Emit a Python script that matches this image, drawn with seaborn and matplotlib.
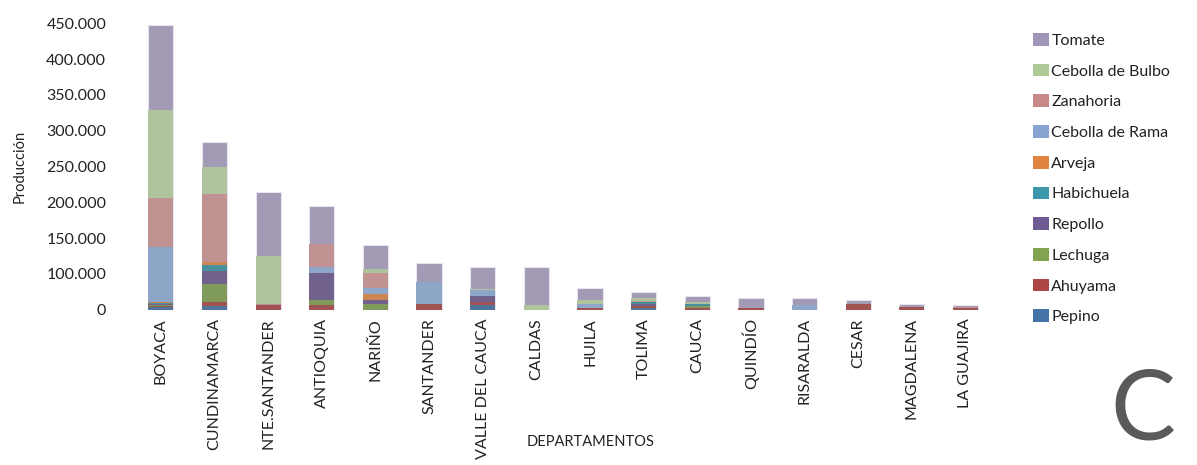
import numpy as np
import pandas as pd
import seaborn as sns
from matplotlib import pyplot as plt
from matplotlib.patches import Patch

# Data
departamentos = ['BOYACA', 'CUNDINAMARCA', 'NTE.SANTANDER', 'ANTIOQUIA', 'NARIÑO',
                 'SANTANDER', 'VALLE DEL CAUCA', 'CALDAS', 'HUILA', 'TOLIMA', 'CAUCA',
                 'QUINDÍO', 'RISARALDA', 'CESAR', 'MAGDALENA', 'LA GUAJIRA']

pepino     = [5000, 6300, 0, 0, 0, 0, 6600, 0, 0, 3100, 0, 0, 0, 0, 0, 0]
ahuyama    = [1000, 5800, 7500, 7000, 0, 9700, 5600, 0, 3400, 3400, 3100, 3400, 0, 9700, 4400, 3000]
lechuga    = [2000, 27600, 0, 8900, 9700, 0, 0, 0, 0, 0, 2400, 0, 0, 0, 0, 0]
repollo    = [1000, 21000, 0, 42300, 6300, 0, 10000, 0, 0, 2400, 0, 0, 0, 0, 0, 0]
habichuela = [1500, 9400, 0, 0, 0, 0, 0, 0, 0, 3100, 3100, 0, 0, 0, 0, 0]
arveja     = [1500, 5600, 0, 0, 9400, 0, 0, 0, 0, 0, 0, 0, 0, 0, 0, 0]
cebolla_rama  = [87000, 0, 0, 8800, 8800, 33900, 8300, 0, 5200, 0, 0, 0, 7000, 0, 0, 0]
zanahoria     = [77000, 106000, 2000, 36700, 24000, 0, 0, 0, 0, 1600, 0, 0, 0, 0, 0, 1500]
cebolla_bulbo = [137000, 42000, 75000, 0, 5200, 0, 2700, 6600, 6300, 5200, 3600, 0, 0, 0, 0, 0]
tomate        = [135000, 40000, 101000, 58500, 37600, 30400, 33900, 60500, 19300, 8800, 9400, 15700, 12000, 6300, 5300, 2700]

y_ticks_labels = ['0', '100.000', '150.000', '200.000', '250.000',
                  '300.000', '350.000', '400.000', '450.000']

# bottom -> top stacking order
series = [
    ('Pepino', pepino, '#4573a7'),
    ('Ahuyama', ahuyama, '#ad4644'),
    ('Lechuga', lechuga, '#82a452'),
    ('Repollo', repollo, '#6f5b94'),
    ('Habichuela', habichuela, '#3b98ab'),
    ('Arveja', arveja, '#e0843f'),
    ('Cebolla de Rama', cebolla_rama, '#85a5d0'),
    ('Zanahoria', zanahoria, '#c88a89'),
    ('Cebolla de Bulbo', cebolla_bulbo, '#afc997'),
    ('Tomate', tomate, '#a195b9'),
]

df = pd.DataFrame({name: vals for name, vals, _ in series}, index=departamentos)
cum = df.cumsum(axis=1)

sns.set_style('white')
plt.rcParams['font.family'] = ['Lato', 'DejaVu Sans']

fig = plt.figure(figsize=(11.97, 4.65), dpi=100)
ax = fig.add_axes([0.112, 0.334, 0.717, 0.616])

# Stacked bars: draw cumulative totals from the top series down
for i, (name, _, color) in enumerate(reversed(series)):
    sns.barplot(x=departamentos, y=cum[name].values, color=color, width=0.47,
                edgecolor='#e8e4f0' if i == 0 else color,
                linewidth=0.8 if i == 0 else 0, ax=ax)

ax.set_ylim(0, 450000)
ax.set_xlim(-0.5, len(departamentos) - 0.5)
ax.set_yticks(np.linspace(0, 450000, 9))
ax.set_yticklabels(y_ticks_labels, fontsize=11.5, color='#222222')
ax.tick_params(axis='y', length=0, pad=20)
ax.tick_params(axis='x', length=0, pad=6)
plt.setp(ax.get_xticklabels(), rotation=90, fontsize=11.5, color='#222222', va='top')
sns.despine(ax=ax, left=True, bottom=True)

ax.set_ylabel('Producción', fontsize=10.5, color='#222222', labelpad=14)
fig.text(0.493, 0.05, 'DEPARTAMENTOS', fontsize=10.5, color='#222222', ha='center', va='center')

handles = [Patch(facecolor=c, edgecolor='none', label=n) for n, _, c in reversed(series)]
fig.legend(handles=handles, loc='upper left', bbox_to_anchor=(0.851, 0.96),
           frameon=False, fontsize=11.5, handlelength=1.0, handleheight=0.85,
           handletextpad=0.15, labelspacing=0.99, labelcolor='#222222')

fig.text(0.955, 0.055, 'C', fontsize=70, color='#5a5a5a', ha='center', va='baseline')

plt.savefig('out.png', dpi=100)
